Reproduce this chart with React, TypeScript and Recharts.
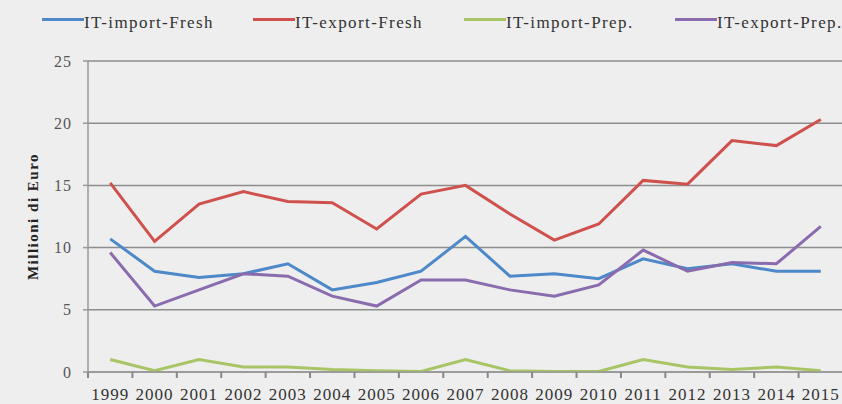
import React from 'react';
import { LineChart, Line, XAxis, YAxis, CartesianGrid } from 'recharts';

const years = ['1999', '2000', '2001', '2002', '2003', '2004', '2005', '2006', '2007', '2008', '2009', '2010', '2011', '2012', '2013', '2014', '2015'];
const importFresh = [10.7, 8.1, 7.6, 7.9, 8.7, 6.6, 7.2, 8.1, 10.9, 7.7, 7.9, 7.5, 9.1, 8.3, 8.7, 8.1, 8.1];
const exportFresh = [15.2, 10.5, 13.5, 14.5, 13.7, 13.6, 11.5, 14.3, 15.0, 12.7, 10.6, 11.9, 15.4, 15.1, 18.6, 18.2, 20.3];
const importPrep = [1.0, 0.1, 1.0, 0.4, 0.4, 0.2, 0.1, 0.05, 1.0, 0.1, 0.05, 0.05, 1.0, 0.4, 0.2, 0.4, 0.1];
const exportPrep = [9.6, 5.3, 6.6, 7.9, 7.7, 6.1, 5.3, 7.4, 7.4, 6.6, 6.1, 7.0, 9.8, 8.1, 8.8, 8.7, 11.7];
const yTicks = [0, 5, 10, 15, 20, 25];

const series = [
  { key: 'importFresh', name: 'IT-import-Fresh', color: '#4d88c8', values: importFresh },
  { key: 'exportFresh', name: 'IT-export-Fresh', color: '#cf514d', values: exportFresh },
  { key: 'importPrep', name: 'IT-import-Prep.', color: '#a7c565', values: importPrep },
  { key: 'exportPrep', name: 'IT-export-Prep.', color: '#8a6cae', values: exportPrep },
];

const data = years.map((year, i) => {
  const row: Record<string, string | number> = { year };
  series.forEach((s) => {
    row[s.key] = s.values[i];
  });
  return row;
});

const serif = 'Liberation Serif, Times New Roman, Times, Tinos, DejaVu Serif, Noto Serif, serif';
const TICK_GAP = 16;

function YearTick(props: any) {
  const { x, y, payload, index, visibleTicksCount, width } = props;
  const half =
    payload && typeof payload.offset === 'number' && payload.offset > 0
      ? payload.offset
      : (Number(width) || 0) / (2 * (visibleTicksCount || 1));
  const top = y - TICK_GAP;
  return (
    <g>
      <line x1={x - half} x2={x - half} y1={top} y2={top + 6} stroke="#888" strokeWidth={2} />
      {index === visibleTicksCount - 1 ? (
        <line x1={x + half} x2={x + half} y1={top} y2={top + 6} stroke="#888" strokeWidth={2} />
      ) : null}
      <text x={x} y={y} dy="0.71em" textAnchor="middle" fill="#333" fontSize={17} fontFamily={serif} letterSpacing={1}>
        {payload.value}
      </text>
    </g>
  );
}

export default function App() {
  return (
    <div
      style={{
        position: 'absolute',
        left: 0,
        top: 0,
        width: 842,
        height: 404,
        overflow: 'hidden',
        background: '#eeeeee',
        fontFamily: serif,
      }}
    >
      <div style={{ position: 'absolute', left: 42, top: 9, display: 'flex' }}>
        {series.map((s) => (
          <div key={s.key} style={{ width: 211, display: 'flex', alignItems: 'center', height: 24 }}>
            <div style={{ width: 42, height: 3, background: s.color, marginTop: -3 }} />
            <span style={{ fontSize: 17, letterSpacing: 1.4, color: '#333', whiteSpace: 'nowrap', marginTop: 4, fontFamily: serif }}>
              {s.name}
            </span>
          </div>
        ))}
      </div>
      <LineChart width={860} height={404} data={data} margin={{ top: 61, right: 17, bottom: 0, left: 0 }}>
        <CartesianGrid vertical={false} stroke="#8d8d8d" strokeWidth={1.5} yAxisId="y" xAxisId="cat" />
        <XAxis
          xAxisId="cat"
          dataKey="year"
          scale="band"
          interval={0}
          axisLine={{ stroke: '#999', strokeWidth: 1.5 }}
          tickLine={false}
          tickSize={6}
          tickMargin={10}
          height={32}
          tick={<YearTick />}
        />
        <YAxis
          yAxisId="y"
          domain={[0, 25]}
          ticks={yTicks}
          width={88}
          interval={0}
          axisLine={{ stroke: '#999', strokeWidth: 1.5 }}
          tickLine={{ stroke: '#999', strokeWidth: 1.5 }}
          tickSize={5}
          tickMargin={11}
          tick={{ fill: '#555', fontSize: 16, fontFamily: serif, letterSpacing: 1 }}
          label={{
            value: 'Millioni di Euro',
            angle: -90,
            position: 'insideLeft',
            offset: 33,
            style: { textAnchor: 'middle', fontFamily: serif, fontWeight: 'bold', fontSize: 15, letterSpacing: 1.5, fill: '#222' },
          }}
        />
        {series.map((s) => (
          <Line
            key={s.key}
            xAxisId="cat"
            yAxisId="y"
            type="linear"
            dataKey={s.key}
            name={s.name}
            stroke={s.color}
            strokeWidth={3}
            dot={false}
            isAnimationActive={false}
          />
        ))}
      </LineChart>
    </div>
  );
}
